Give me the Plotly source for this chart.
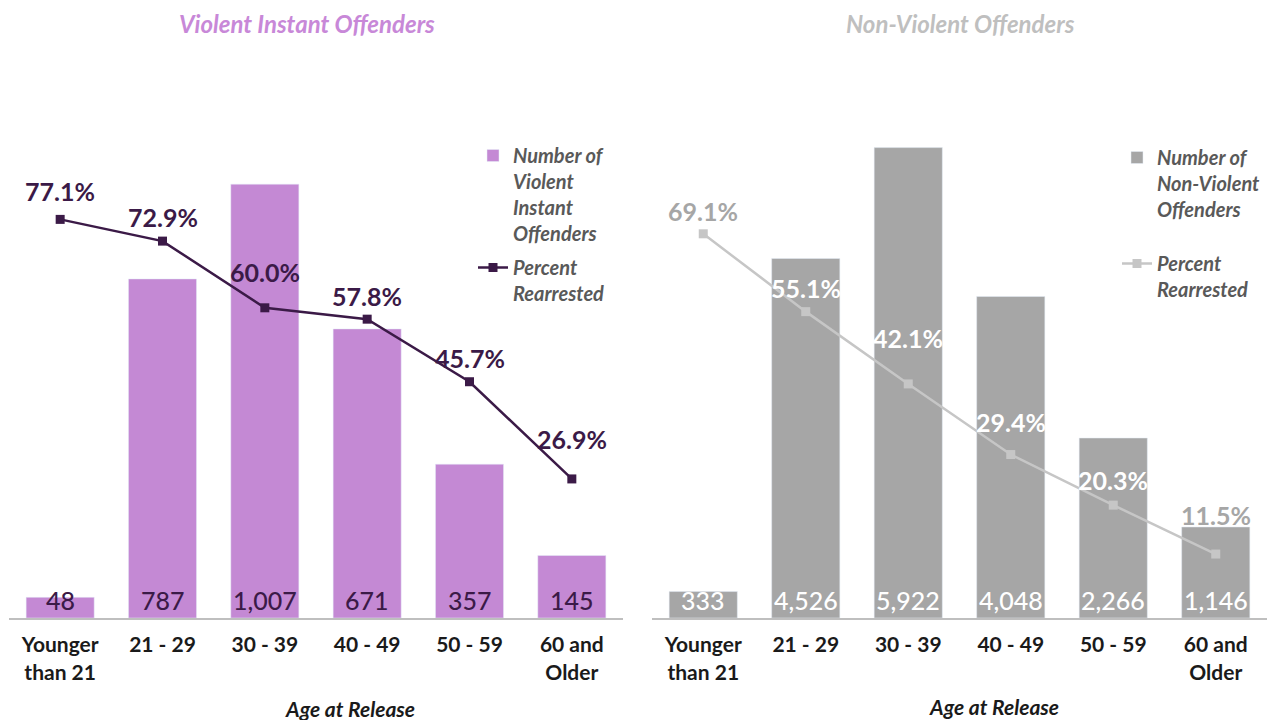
import plotly.graph_objects as go

categories = ["Younger<br>than 21", "21 - 29", "30 - 39", "40 - 49", "50 - 59", "60 and<br>Older"]
violent_counts = [48, 787, 1007, 671, 357, 145]
violent_pct = [77.1, 72.9, 60.0, 57.8, 45.7, 26.9]
nonviolent_counts = [333, 4526, 5922, 4048, 2266, 1146]
nonviolent_pct = [69.1, 55.1, 42.1, 29.4, 20.3, 11.5]

# style
W, H = 1279, 720
FONT = "Lato"
PURPLE = "#c489d4"
DARK = "#3b1a47"
GREY_BAR = "#a6a6a6"
GREY_LINE = "#c6c6c6"
LEG_COL = "#595959"
v_label_shift = [28, 24, 36, 23, 24, 40]
nv_label_shift = [23, 24, 46, 33, 25, 39]
nv_label_colors = ["#a6a6a6", "white", "white", "white", "white", "#a6a6a6"]

def fmt(n):
    return f"{n:,}"

fig = go.Figure()

# Left panel
fig.add_trace(go.Bar(
    x=categories, y=violent_counts, marker_color=PURPLE, width=0.665,
    name="Number of<br>Violent<br>Instant<br>Offenders",
    xaxis="x", yaxis="y", legend="legend", legendgroup="a",
))
fig.add_trace(go.Scatter(
    x=categories, y=violent_pct, mode="lines+markers",
    line=dict(color=DARK, width=2.5),
    marker=dict(symbol="square", size=9, color=DARK),
    name="Percent<br>Rearrested",
    xaxis="x", yaxis="y2", legend="legend", legendgroup="b",
))

# Right panel
fig.add_trace(go.Bar(
    x=categories, y=nonviolent_counts, marker_color=GREY_BAR, width=0.665,
    name="Number of<br>Non-Violent<br>Offenders",
    xaxis="x2", yaxis="y3", legend="legend2", legendgroup="c",
))
fig.add_trace(go.Scatter(
    x=categories, y=nonviolent_pct, mode="lines+markers",
    line=dict(color=GREY_LINE, width=2.5),
    marker=dict(symbol="square", size=9, color=GREY_LINE),
    name="Percent<br>Rearrested",
    xaxis="x2", yaxis="y4", legend="legend2", legendgroup="d",
))

annotations = []
# bar value labels at base
for c, v in zip(categories, violent_counts):
    annotations.append(dict(x=c, y=0, xref="x", yref="y", text=fmt(v),
                            showarrow=False, yshift=18, yanchor="middle", xanchor="center",
                            font=dict(family=FONT, size=25, color=DARK, weight=500)))
for c, v in zip(categories, nonviolent_counts):
    annotations.append(dict(x=c, y=0, xref="x2", yref="y3", text=fmt(v),
                            showarrow=False, yshift=18, yanchor="middle", xanchor="center",
                            font=dict(family=FONT, size=25, color="white", weight=500)))
# percent labels
for c, p, s in zip(categories, violent_pct, v_label_shift):
    annotations.append(dict(x=c, y=p, xref="x", yref="y2", text=f"{p:.1f}%",
                            showarrow=False, yshift=s, yanchor="middle", xanchor="center",
                            font=dict(family=FONT, size=25, color=DARK, weight="bold")))
for c, p, s, col in zip(categories, nonviolent_pct, nv_label_shift, nv_label_colors):
    annotations.append(dict(x=c, y=p, xref="x2", yref="y4", text=f"{p:.1f}%",
                            showarrow=False, yshift=s, yanchor="middle", xanchor="center",
                            font=dict(family=FONT, size=25, color=col, weight="bold")))

# titles
annotations.append(dict(x=307 / W, y=1 - 24 / H, xref="paper", yref="paper",
                        xanchor="center", yanchor="middle",
                        text="Violent Instant Offenders", showarrow=False,
                        font=dict(family=FONT, size=24, color="#c888d8", weight="bold", style="italic")))
annotations.append(dict(x=960 / W, y=1 - 24 / H, xref="paper", yref="paper",
                        xanchor="center", yanchor="middle",
                        text="Non-Violent Offenders", showarrow=False,
                        font=dict(family=FONT, size=24, color="#bfbfbf", weight="bold", style="italic")))
annotations.append(dict(x=350 / W, y=1 - 708 / H, xref="paper", yref="paper",
                        xanchor="center", yanchor="middle",
                        text="Age at Release", showarrow=False,
                        font=dict(family=FONT, size=21, color="#1a1a1a", weight="bold", style="italic")))
annotations.append(dict(x=994 / W, y=1 - 706 / H, xref="paper", yref="paper",
                        xanchor="center", yanchor="middle",
                        text="Age at Release", showarrow=False,
                        font=dict(family=FONT, size=21, color="#1a1a1a", weight="bold", style="italic")))

xcommon = dict(showgrid=False, showline=True, linecolor="#bfbfbf", linewidth=2,
               tickfont=dict(family=FONT, size=21, color="#1a1a1a", weight="bold"),
               ticks="", ticklabelstandoff=7, fixedrange=True)
ycommon = dict(showgrid=False, showticklabels=False, zeroline=False, showline=False, fixedrange=True)

legend_font = dict(family=FONT, size=20, color=LEG_COL, weight="bold", style="italic")

fig.update_layout(
    width=W, height=H,
    margin=dict(l=0, r=0, t=0, b=0),
    plot_bgcolor="white", paper_bgcolor="white",
    font=dict(family=FONT),
    xaxis=dict(domain=[9 / W, 623 / W], anchor="y", **xcommon),
    xaxis2=dict(domain=[652 / W, 1267 / W], anchor="y3", **xcommon),
    yaxis=dict(domain=[1 - 618 / H, 1 - 101 / H], range=[0, 1200], anchor="x", **ycommon),
    yaxis2=dict(range=[0, 100], overlaying="y", anchor="x", side="right", **ycommon),
    yaxis3=dict(domain=[1 - 618 / H, 1 - 62 / H], range=[0, 7000], anchor="x2", **ycommon),
    yaxis4=dict(range=[0, 100], overlaying="y3", anchor="x2", side="right", **ycommon),
    legend=dict(x=473 / W, y=1 - 136 / H, xanchor="left", yanchor="top",
                font=legend_font, valign="top", traceorder="grouped", tracegroupgap=5,
                bgcolor="rgba(0,0,0,0)"),
    legend2=dict(x=1117 / W, y=1 - 138 / H, xanchor="left", yanchor="top",
                 font=legend_font, valign="top", traceorder="grouped", tracegroupgap=25,
                 bgcolor="rgba(0,0,0,0)"),
    annotations=annotations,
    bargap=0.33,
)

fig.write_html("out.html", config={"displayModeBar": False},
               post_script="document.body.style.margin='0';")
